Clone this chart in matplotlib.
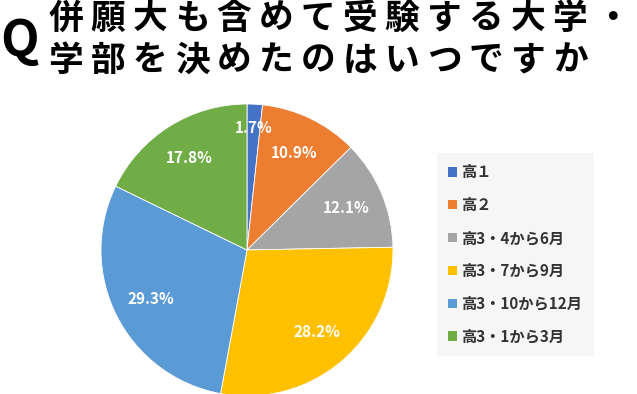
import matplotlib.pyplot as plt
from matplotlib.patches import Patch

plt.rcParams['font.family'] = ['Noto Sans CJK JP', 'DejaVu Sans']

# data
labels = ['高１', '高２', '高3・4から6月', '高3・7から9月', '高3・10から12月', '高3・1から3月']
values = [1.7, 10.9, 12.1, 28.2, 29.3, 17.8]
colors = ['#4472C4', '#ED7D31', '#A5A5A5', '#FFC000', '#5B9BD5', '#70AD47']
title_lines = ['併願大も含めて受験する大学・', '学部を決めたのはいつですか']

W, H = 637, 394
fig = plt.figure(figsize=(W / 100, H / 100), dpi=100)

# pie axes: centre (247,250) px from top, radius 146 px
cx, cy, r = 247, 250, 146
ax = fig.add_axes([(cx - r) / W, (H - cy - r) / H, 2 * r / W, 2 * r / H])
wedges, texts, autotexts = ax.pie(values, colors=colors, startangle=90, counterclock=False,
                                  autopct='%1.1f%%', pctdistance=0.74,
                                  wedgeprops=dict(edgecolor='white', linewidth=0.6),
                                  textprops=dict(color='white', fontsize=11, fontweight='bold'))
# small slice label sits further out
x, y = autotexts[0].get_position()
autotexts[0].set_position((x * 0.84 / 0.74, y * 0.84 / 0.74))
ax.set_xlim(-1, 1)
ax.set_ylim(-1, 1)
ax.set_aspect('auto')

# legend
handles = [Patch(facecolor=c, edgecolor='none') for c in colors]
leg = fig.legend(handles, labels, loc='upper left', bbox_to_anchor=(437 / W, 1 - 153 / H),
                 frameon=True, fancybox=False, facecolor='#f6f6f6', edgecolor='none',
                 prop=dict(size=11, weight='bold'), labelcolor='#333333',
                 handlelength=0.55, handleheight=0.55, handletextpad=0.3,
                 labelspacing=1.1, borderpad=0.75, borderaxespad=0)
leg.get_frame().set_alpha(1)

# title (letter-spaced, one glyph at a time)
fig.text(0, 1 - 41 / H, 'Q', fontsize=36, fontweight='bold', va='center', ha='left')
step = 42
for line, yc in zip(title_lines, [18, 60]):
    for i, ch in enumerate(line):
        fig.text((66 + i * step) / W, 1 - yc / H, ch, fontsize=25, fontweight='bold',
                 va='center', ha='center')

fig.savefig('out.png', dpi=100)
